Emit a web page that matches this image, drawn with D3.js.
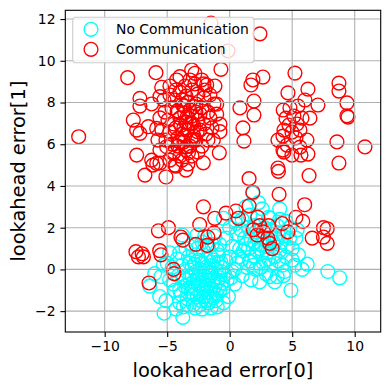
<!DOCTYPE html>
<html>
<head>
<meta charset="utf-8">
<script src="https://cdn.jsdelivr.net/npm/d3@7"></script>
<style>
  body { margin: 0; background: #fff; }
  text { font-family: "DejaVu Sans", sans-serif; }
</style>
</head>
<body>
<div id="vis"></div>
<script>
// frame constants
const FRAME_WIDTH = 390;
const FRAME_HEIGHT = 390;
const PLOT = {left: 65.3, right: 380.7, top: 10.3, bottom: 332};

// data: [error0, error1]
const noComm = [
  [-3.2,-0.4],[-2.8,-0.9],[-2.4,-0.2],[-2.0,-0.7],[-1.6,-0.3],[-1.2,-0.8],[-0.8,-0.4],[-3.6,-0.8],
  [-3.0,0.1],[-2.6,-1.3],[-2.2,0.3],[-1.8,-1.1],[-1.4,0.2],[-1.0,-1.2],[-0.6,0.1],[-3.4,-1.4],
  [-2.9,-1.7],[-2.3,-1.5],[-1.7,-1.6],[-1.1,-1.5],[-3.8,0.2],[-4.1,-0.3],[-4.4,-1.0],[-4.0,-1.6],
  [-3.3,0.6],[-2.7,0.7],[-2.1,0.9],[-1.5,0.6],[-0.9,0.7],[-0.3,0.4],[-0.2,-0.5],[0.2,-0.1],
  [-2.5,-0.5],[-1.9,-0.1],[-1.3,-0.5],[-3.1,-1.1],[-2.0,-1.3],[-1.5,-0.9],[-2.7,-0.1],[-3.5,-0.1],
  [-0.5,-0.9],[-0.1,-1.3],[0.4,-0.7],[-4.6,0.1],[-4.8,-0.5],[-5.0,0.3],[-4.8,0.8],[-3.8,1.65],
  [-2.6,1.65],[-3.0,1.2],[-2.2,1.3],[-1.7,1.1],[-5.1,-1.5],[-5.6,-1.3],[-6.4,-0.8],[-5.25,-2.1],
  [-3.75,-2.3],[-2.75,-1.85],[-0.5,-1.6],[-5.5,-0.35],[-4.3,-1.9],[-3.7,-1.8],[-2.2,-1.9],[-1.5,-1.85],
  [-1.0,-1.8],[-3.9,-1.2],[-4.5,-0.7],[-1.9,0.45],[-2.4,0.0],[-2.9,-0.6],[-1.1,0.0],[-0.7,-0.1],
  [-3.3,-0.9],[-2.6,-0.4],[-1.7,-0.5],[-2.1,-1.0],[0.0,0.6],[0.6,0.3],[-4.2,0.5],[-6.0,-0.2],
  [-5.3,0.2],[-0.8,1.2],[-0.3,1.5],[-1.2,1.6],
  [-3.0,-0.25],[-2.5,-0.75],[-2.0,-0.35],[-1.5,-0.15],[-1.0,-0.6],[-3.5,-0.5],[-2.9,-1.2],[-2.3,-1.15],
  [-1.8,-0.8],[-1.3,-1.0],[-0.8,-1.0],[-3.2,0.3],[-2.5,0.45],[-1.9,0.1],[-1.3,0.45],[-0.7,0.35],
  [-2.2,-0.5],[-1.6,-1.3],[-2.8,0.25],[-3.7,-0.4],[-4.0,-1.0],[-3.4,-1.7],[-2.4,-1.7],[-1.9,-1.5],
  [-1.3,-1.35],[-0.4,-0.25],[0.1,-0.4],[-0.6,-0.65],[-1.0,0.35],[-2.6,1.0],[-2.0,1.6],[-1.4,1.2],
  [-1.0,0.9],[-3.5,1.0],[-4.0,0.8],
  [1.0,0.5],[1.5,1.0],[2.0,0.6],[2.5,1.2],[3.0,0.8],[3.5,1.3],[4.0,0.9],[1.2,1.5],
  [1.8,1.9],[2.3,1.6],[2.8,2.0],[3.3,1.7],[3.8,2.1],[4.3,1.6],[0.8,1.0],[1.4,0.1],
  [2.1,0.0],[2.7,0.3],[3.3,0.2],[3.9,0.4],[4.5,0.6],[5.0,1.0],[5.3,1.5],[4.8,2.0],
  [0.5,2.2],[1.0,2.4],[1.6,2.6],[2.2,2.5],[2.6,2.9],[3.1,2.5],[1.85,3.65],[2.3,3.2],
  [3.2,2.45],[6.2,0.25],[7.85,-0.1],[8.8,-0.4],[4.9,-1.0],[5.0,0.45],[3.8,-0.35],[4.3,-0.3],
  [3.2,-0.35],[0.2,1.1],[0.6,1.7],[1.3,1.2],[2.0,1.3],[2.6,0.8],[3.4,1.0],[4.1,1.3],
  [4.6,1.1],[5.5,0.7],[0.4,0.0],[1.0,-0.3],[1.7,-0.5],[2.4,-0.6],[2.9,-0.2],[3.6,-0.6],
  [4.4,-0.1],[5.8,0.0],[0.0,2.0],[-0.5,2.45],[0.45,2.35],[1.3,3.0],[2.0,2.1],[3.6,1.5],
  [4.8,1.5],[5.4,1.9],[4.0,2.4],[1.6,0.4],[2.2,0.9],[3.0,1.4],[0.9,1.9],[5.2,0.2],
  [1.1,0.9],[1.7,1.4],[2.4,1.0],[2.9,1.1],[3.6,0.6],[2.1,1.8],[2.7,1.5],[3.2,1.9],
  [1.5,2.0],[0.7,0.6],[1.9,0.2],[2.5,0.1],[3.1,0.5],[4.2,0.2],[3.9,1.7],[4.5,2.3],[4.0,2.9]
];

const comm = [
  [-12.08,6.36],[-8.16,9.19],[-5.90,9.43],[-7.18,8.20],[-7.18,7.83],[-6.24,7.93],[-5.58,8.28],[-5.44,8.73],
  [-4.78,8.79],[-4.24,9.08],[-3.98,9.24],[-3.04,9.56],[-2.78,9.40],[-2.24,9.08],[-1.84,8.84],[-1.18,8.79],
  [-0.70,9.59],[-1.04,7.92],[-1.04,7.44],[-0.78,6.96],[-0.78,6.60],[-1.31,6.20],[-0.83,5.59],[-2.11,5.11],
  [-7.71,7.16],[-7.44,6.68],[-7.18,6.52],[-6.51,6.84],[-5.84,6.76],[-7.44,5.48],[-6.24,5.24],[-5.84,5.08],
  [-4.51,5.56],[-5.04,5.88],[-3.44,5.88],[-2.91,6.20],[-6.78,4.52],[-6.14,5.00],[-5.58,5.10],[-5.10,4.43],
  [-4.38,5.00],[-1.50,11.81],[2.42,11.29],[-0.14,10.47],
  [0.82,7.74],[1.94,8.07],[1.94,7.40],[1.06,6.78],[1.14,6.15],[1.70,8.84],[1.86,9.08],[2.66,9.22],
  [5.22,9.41],[6.26,8.64],[7.06,7.88],[8.74,8.93],[8.74,8.55],[9.38,7.98],[9.38,7.36],[9.46,7.30],
  [8.58,6.11],[10.82,5.87],[8.74,5.10],[3.86,4.86],[4.66,8.46],
  [4.28,7.64],[4.82,7.74],[5.46,7.83],[4.50,7.25],[5.14,7.35],[5.78,7.25],[4.74,6.92],[5.38,6.97],
  [4.34,6.68],[4.98,6.58],[5.62,6.68],[4.26,6.39],[5.30,6.30],[6.18,6.20],[4.58,5.96],[5.62,5.86],
  [4.34,5.62],[4.98,5.48],[5.70,5.48],[6.26,5.53],[3.86,6.20],[6.42,7.25],[6.02,8.12],[4.26,5.72],
  [-4.78,8.36],[-4.38,8.12],[-3.98,8.50],[-3.50,8.31],[-3.02,8.60],[-2.54,8.41],[-2.06,8.22],[-1.58,8.36],
  [-4.62,7.74],[-4.14,7.54],[-3.66,7.83],[-3.18,7.64],[-2.70,7.93],[-2.22,7.74],[-1.74,7.54],[-1.26,7.93],
  [-4.94,7.16],[-4.46,6.97],[-3.98,7.26],[-3.50,7.06],[-3.02,7.35],[-2.54,7.16],[-2.06,6.97],[-1.58,7.26],
  [-4.78,6.59],[-4.30,6.78],[-3.82,6.49],[-3.34,6.68],[-2.86,6.39],[-2.38,6.68],[-1.90,6.49],[-1.42,6.78],
  [-5.10,6.20],[-4.62,6.01],[-4.14,6.30],[-3.66,6.11],[-3.18,5.91],[-2.70,6.20],[-2.22,5.91],[-4.46,5.62],
  [-3.98,5.43],[-3.50,5.72],[-3.02,5.43],[-2.54,5.62],[-3.82,5.24],[-3.34,5.05],[-4.30,4.95],[-5.18,7.54],
  [-5.42,6.68],[-5.58,7.26],[-3.58,8.79],[-2.78,8.89],[-1.98,8.60],[-3.34,8.02],[-3.82,8.12],[-2.86,6.87],
  [-2.38,7.45],[-4.14,5.91],[-4.78,5.24],[-3.50,4.76],[-5.58,5.72],[-5.74,6.20],[-5.26,8.12],[-1.74,6.20],
  [-2.06,8.89],[-3.18,9.08],[-4.30,8.60],[-3.66,6.78],[-3.18,6.97],[-2.70,7.54],
  [-3.4,7.3],[-3.9,6.9],[-2.9,7.8],[-3.6,6.4],[-4.2,7.6],[-3.1,6.2],[-3.8,7.9],[-2.6,6.6],
  [-4.0,6.1],[-3.3,5.6],[-3.6,7.5],[-3.0,7.0],
  [1.55,4.35],[3.9,4.7],[6.35,4.5],[3.95,3.6],[1.85,3.7],[1.55,3.05],[6.0,3.1],[-2.1,3.0],
  [5.3,2.5],[5.85,2.3],[-0.3,2.7],[0.5,2.8],[0.7,2.45],[-1.2,2.45],[-2.4,2.15],[2.25,2.5],
  [2.4,2.1],[3.1,2.1],[4.2,2.2],[4.65,1.8],[-4.9,2.0],[-5.7,1.85],[-3.9,1.55],[-3.75,1.4],
  [-2.7,1.2],[-1.8,1.15],[-1.75,1.55],[-1.25,1.75],[2.2,1.65],[2.7,1.8],[3.05,1.5],[3.2,1.25],
  [3.4,1.0],[1.9,1.9],[6.6,1.5],[7.5,2.0],[7.8,1.95],[7.5,1.55],[7.8,1.25],[-7.5,0.85],
  [-7.0,0.75],[-7.3,0.6],[-6.9,0.6],[-5.6,0.9],[-5.5,0.7],[-4.5,0.0],[-4.45,-0.2],[-6.45,-0.65]
];

const seriesNames = ["No Communication", "Communication"];
const seriesColors = ["#00ffff", "#ff0000"];
const xTicks = [-10, -5, 0, 5, 10];
const yTicks = [-2, 0, 2, 4, 6, 8, 10, 12];

const svg = d3.select("#vis")
  .append("svg")
    .attr("width", FRAME_WIDTH)
    .attr("height", FRAME_HEIGHT);

svg.append("rect")
  .attr("width", FRAME_WIDTH).attr("height", FRAME_HEIGHT).attr("fill", "#fff");

// scales
const X_SCALE = d3.scaleLinear().domain([-13.15, 12.08]).range([PLOT.left, PLOT.right]);
const Y_SCALE = d3.scaleLinear().domain([-3.0, 12.42]).range([PLOT.bottom, PLOT.top]);

const fmt = d => (d < 0 ? "\u2212" + Math.abs(d) : "" + d);

// points, no-communication first, communication on top
const R = 6.9;
[noComm, comm].forEach((set, i) => {
  svg.append("g")
    .selectAll("circle")
    .data(set)
    .enter()
    .append("circle")
      .attr("cx", d => X_SCALE(d[0]))
      .attr("cy", d => Y_SCALE(d[1]))
      .attr("r", R)
      .attr("fill", "none")
      .attr("stroke", seriesColors[i])
      .attr("stroke-width", 1.39);
});

// grid
const grid = svg.append("g").attr("stroke", "#b0b0b0").attr("stroke-width", 1.1);
grid.selectAll(".gx").data(xTicks).enter().append("line")
  .attr("x1", d => X_SCALE(d)).attr("x2", d => X_SCALE(d))
  .attr("y1", PLOT.top).attr("y2", PLOT.bottom);
grid.selectAll(".gy").data(yTicks).enter().append("line")
  .attr("y1", d => Y_SCALE(d)).attr("y2", d => Y_SCALE(d))
  .attr("x1", PLOT.left).attr("x2", PLOT.right);

// frame
svg.append("rect")
  .attr("x", PLOT.left).attr("y", PLOT.top)
  .attr("width", PLOT.right - PLOT.left).attr("height", PLOT.bottom - PLOT.top)
  .attr("fill", "none").attr("stroke", "#000").attr("stroke-width", 1.1);

// axes
const xAxis = svg.append("g")
  .attr("transform", "translate(0," + PLOT.bottom + ")")
  .call(d3.axisBottom(X_SCALE).tickValues(xTicks).tickFormat(fmt).tickSize(4.9).tickPadding(4.2));
const yAxis = svg.append("g")
  .attr("transform", "translate(" + PLOT.left + ",0)")
  .call(d3.axisLeft(Y_SCALE).tickValues(yTicks).tickFormat(fmt).tickSize(4.9).tickPadding(4.9));
[xAxis, yAxis].forEach(a => {
  a.select(".domain").remove();
  a.selectAll("line").attr("stroke", "#000").attr("stroke-width", 1.1);
  a.selectAll("text").attr("font-family", "DejaVu Sans").attr("font-size", "13.9px").attr("fill", "#000");
});

// axis labels
svg.append("text")
  .attr("x", (PLOT.left + PLOT.right) / 2).attr("y", 377)
  .attr("text-anchor", "middle").attr("font-size", "19.4px")
  .text("lookahead error[0]");
svg.append("text")
  .attr("transform", "translate(24.5," + (PLOT.top + PLOT.bottom) / 2 + ") rotate(-90)")
  .attr("text-anchor", "middle").attr("font-size", "19.4px")
  .text("lookahead error[1]");

// legend
const legend = svg.append("g");
legend.append("rect")
  .attr("x", 72.7).attr("y", 17.3).attr("width", 181.3).attr("height", 45.4)
  .attr("rx", 3).attr("fill", "#fff").attr("fill-opacity", 0.8)
  .attr("stroke", "#cccccc").attr("stroke-width", 1.1);
seriesNames.forEach((name, i) => {
  const y = 29.3 + i * 20;
  legend.append("circle")
    .attr("cx", 91).attr("cy", y).attr("r", R)
    .attr("fill", "none").attr("stroke", seriesColors[i]).attr("stroke-width", 1.39);
  legend.append("text")
    .attr("x", 116).attr("y", y).attr("dy", "0.36em")
    .attr("font-size", "13.9px")
    .text(name);
});
</script>
</body>
</html>
